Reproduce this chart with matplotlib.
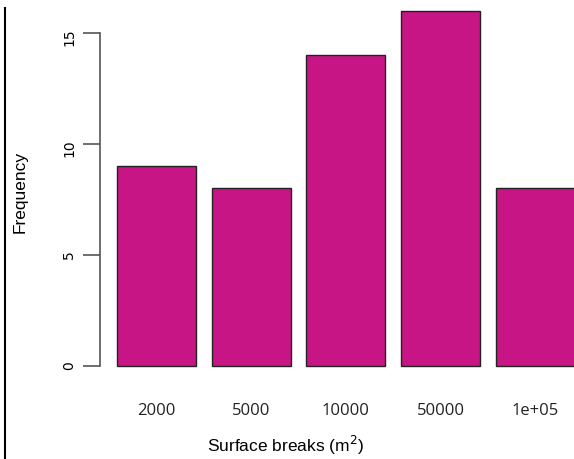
import matplotlib.pyplot as plt
from matplotlib.lines import Line2D

breaks = ["2000", "5000", "10000", "50000", "1e+05"]
freq = [9, 8, 14, 16, 8]
yticks = [0, 5, 10, 15]

W, H = 574, 460
fig = plt.figure(figsize=(W / 100, H / 100), dpi=100)

# plot region: x data 0..6 maps to px 101..575, y 0 at px 367
x0, x1 = 101, 575
ybot, ytop = 367, 0
ax = fig.add_axes([x0 / W, 1 - ybot / H, (x1 - x0) / W, (ybot - ytop) / H])
ax.set_xlim(0, 6.0)
ax.set_ylim(0, ybot / 22.2)

lefts = [0.2 + i * 1.2 for i in range(len(freq))]
ax.bar(lefts, freq, width=1.0, align="edge", color="#C71585",
       edgecolor="#222222", linewidth=1.0, clip_on=False)

for s in ax.spines.values():
    s.set_visible(False)
ax.set_xticks([l + 0.5 for l in lefts])
ax.set_xticklabels(breaks, family="Open Sans", fontsize=12, color="#222222")
ax.tick_params(axis="x", length=0, pad=26)

ax.set_yticks(yticks)
ax.tick_params(axis="y", length=12, width=1.2, color="#555555", pad=5,
               labelrotation=90)
ax.set_yticklabels([str(t) for t in yticks], family="Open Sans", fontsize=12.5,
                   color="#222222", va="center")
ax.spines["left"].set_visible(True)
ax.spines["left"].set_bounds(0, 15)
ax.spines["left"].set_position(("outward", 1))
ax.spines["left"].set_color("#555555")
ax.spines["left"].set_linewidth(1.2)

fig.text(20 / W, 1 - 192 / H, "Frequency", rotation=90, ha="center", va="center",
         family="Liberation Sans", fontsize=12.5)
fig.text(286 / W, 1 - 445 / H, "Surface breaks (m$^2$)", ha="center", va="center",
         family="Liberation Sans", fontsize=12.5)

fig.add_artist(Line2D([5 / W, 5 / W], [0, 1 - 9 / H], color="black", linewidth=1.5))

fig.savefig("out.png", dpi=100)
